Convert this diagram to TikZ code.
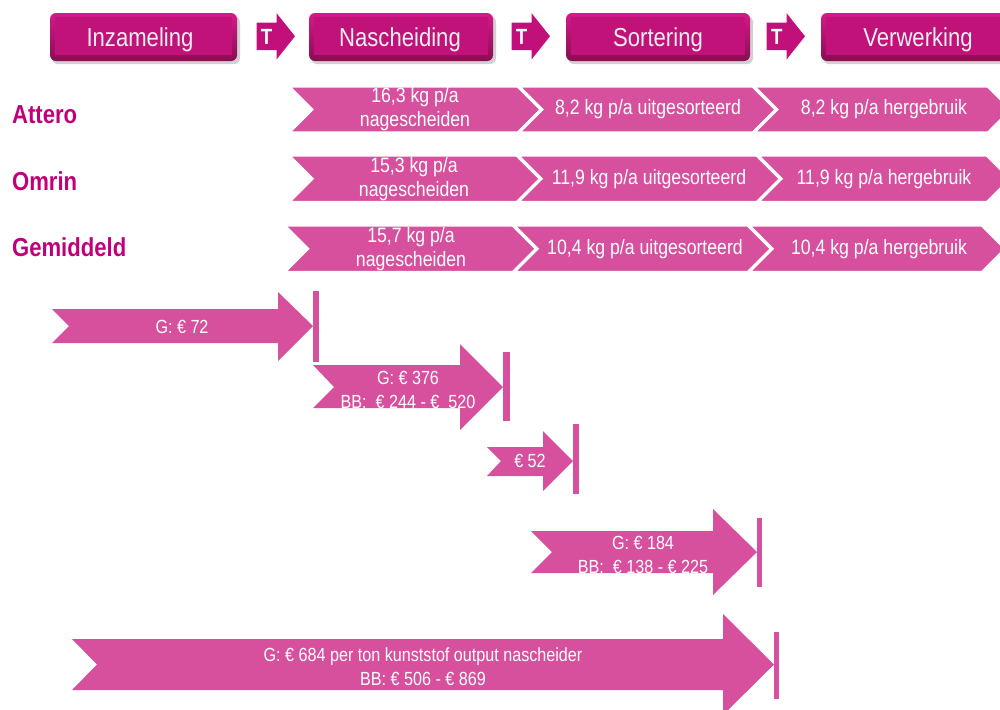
\documentclass[tikz,border=0pt]{standalone}
\usepackage{fontspec}
\setmainfont{Liberation Sans}[FakeStretch=0.85]
\definecolor{chevpink}{RGB}{214,80,158}
\definecolor{tmag}{RGB}{194,16,122}
\definecolor{hdrtop}{RGB}{212,26,140}
\definecolor{hdrbot}{RGB}{135,14,82}
\definecolor{hdrface}{RGB}{192,18,121}
\definecolor{hdrtext}{RGB}{240,238,240}
\definecolor{lblmag}{RGB}{192,0,122}
\begin{document}
\begin{tikzpicture}[x=0.5pt,y=-0.5pt,
	chev/.style={fill=chevpink,draw=white,line width=1.6pt,line join=miter},
	arr/.style={fill=chevpink},
	hdrtxt/.style={text=hdrtext,font=\fontsize{13}{15}\selectfont,anchor=base,inner sep=0pt},
	chevtxt/.style={text=white,font=\fontsize{10.4}{12}\selectfont,align=center,inner sep=0pt},
	arrtxt/.style={text=white,font=\fontsize{9.5}{12}\selectfont,align=center,inner sep=0pt},
	rowlbl/.style={text=lblmag,font=\fontsize{13}{15}\selectfont\bfseries,anchor=base west,inner sep=0pt},
	ttxt/.style={text=white,font=\fontsize{11}{13}\selectfont\bfseries,inner sep=0pt}]
	\useasboundingbox (0,0) rectangle (1000,709);
	\clip (0,0) rectangle (1000,709);
	% header boxes
	\fill[black!18,rounded corners=3] (52,16) rectangle (240,64);
	\shade[top color=hdrtop,bottom color=hdrbot,rounded corners=3] (50,13) rectangle (237,61);
	\fill[hdrface] (55,17) rectangle (232,55);
	\node[hdrtxt] (hInz) at (140,46) {Inzameling};
	\fill[black!18,rounded corners=3] (311,16) rectangle (496,64);
	\shade[top color=hdrtop,bottom color=hdrbot,rounded corners=3] (309,13) rectangle (493,61);
	\fill[hdrface] (314,17) rectangle (488,55);
	\node[hdrtxt] (hNas) at (400,46) {Nascheiding};
	\fill[black!18,rounded corners=3] (568,16) rectangle (753,64);
	\shade[top color=hdrtop,bottom color=hdrbot,rounded corners=3] (566,13) rectangle (750,61);
	\fill[hdrface] (571,17) rectangle (745,55);
	\node[hdrtxt] (hSort) at (658,46) {Sortering};
	\fill[black!18,rounded corners=3] (823,16) rectangle (1010,64);
	\shade[top color=hdrtop,bottom color=hdrbot,rounded corners=3] (821,13) rectangle (1008,61);
	\fill[hdrface] (826,17) rectangle (1003,55);
	\node[hdrtxt] (hVerw) at (918,46) {Verwerking};
	% T arrows
	\fill[tmag] (256.7,22.7) -- (276.7,22.7) -- (276.7,13.3) -- (295,36.3) -- (276.7,59.3) -- (276.7,50) -- (256.7,50) -- cycle;
	\node[ttxt] (tA) at (266.7,36.5) {T};
	\fill[tmag] (511.7,22.7) -- (531.7,22.7) -- (531.7,13.3) -- (550,36.3) -- (531.7,59.3) -- (531.7,50) -- (511.7,50) -- cycle;
	\node[ttxt] (tB) at (521.7,36.5) {T};
	\fill[tmag] (766.7,22.7) -- (786.7,22.7) -- (786.7,13.3) -- (805,36.3) -- (786.7,59.3) -- (786.7,50) -- (766.7,50) -- cycle;
	\node[ttxt] (tC) at (776.7,36.5) {T};
	% row labels
	\node[rowlbl] (lAttero) at (11.7,123.3) {Attero};
	\node[rowlbl] (lOmrin) at (11.7,190.7) {Omrin};
	\node[rowlbl] (lGem) at (11.7,256.7) {Gemiddeld};
	% row Attero
	\draw[chev] (288,86) -- (518,86) -- (541.5,109.5) -- (518,133) -- (288,133) -- (311.5,109.5) -- cycle;
	\draw[chev] (518,86) -- (753,86) -- (776.5,109.5) -- (753,133) -- (518,133) -- (541.5,109.5) -- cycle;
	\draw[chev] (753,86) -- (988,86) -- (1011.5,109.5) -- (988,133) -- (753,133) -- (776.5,109.5) -- cycle;
	\node[chevtxt] (aNas) at (415,109.5) {16,3 kg p/a\\nagescheiden};
	\node[chevtxt] (aSort) at (648,109.5) {8,2 kg p/a uitgesorteerd};
	\node[chevtxt] (aVerw) at (884,109.5) {8,2 kg p/a hergebruik};
	% row Omrin
	\draw[chev] (288,155) -- (517,155) -- (540.75,178.75) -- (517,202.5) -- (288,202.5) -- (311.75,178.75) -- cycle;
	\draw[chev] (517,155) -- (757,155) -- (780.75,178.75) -- (757,202.5) -- (517,202.5) -- (540.75,178.75) -- cycle;
	\draw[chev] (757,155) -- (987,155) -- (1010.75,178.75) -- (987,202.5) -- (757,202.5) -- (780.75,178.75) -- cycle;
	\node[chevtxt] (oNas) at (414,178.75) {15,3 kg p/a\\nagescheiden};
	\node[chevtxt] (oSort) at (649,178.75) {11,9 kg p/a uitgesorteerd};
	\node[chevtxt] (oVerw) at (884,178.75) {11,9 kg p/a hergebruik};
	% row Gemiddeld
	\draw[chev] (283.5,225) -- (513,225) -- (536.75,248.75) -- (513,272.5) -- (283.5,272.5) -- (307.25,248.75) -- cycle;
	\draw[chev] (513,225) -- (748,225) -- (771.75,248.75) -- (748,272.5) -- (513,272.5) -- (536.75,248.75) -- cycle;
	\draw[chev] (748,225) -- (982,225) -- (1005.75,248.75) -- (982,272.5) -- (748,272.5) -- (771.75,248.75) -- cycle;
	\node[chevtxt] (gNas) at (411,248.75) {15,7 kg p/a\\nagescheiden};
	\node[chevtxt] (gSort) at (645,248.75) {10,4 kg p/a uitgesorteerd};
	\node[chevtxt] (gVerw) at (879,248.75) {10,4 kg p/a hergebruik};
	% cost arrow inzameling
	\fill[arr] (52,309) -- (278,309) -- (278,292) -- (313,326) -- (278,361) -- (278,343) -- (52,343) -- (69,326) -- cycle;
	\fill[arr] (313,291) rectangle (319,362);
	\node[arrtxt] (cInz) at (182,327) {G: € 72};
	% cost arrow nascheiding
	\fill[arr] (313,365) -- (460,365) -- (460,344) -- (503,387) -- (460,430) -- (460,408) -- (313,408) -- (334,387) -- cycle;
	\fill[arr] (503,352) rectangle (510,421);
	\node[arrtxt] (cNas) at (408,389.5) {G: € 376\\BB:\ \ € 244 - €\ \ 520};
	% cost arrow transport
	\fill[arr] (487,447) -- (543,447) -- (543,431) -- (573,461) -- (543,491) -- (543,476) -- (487,476) -- (501,461) -- cycle;
	\fill[arr] (573,424) rectangle (579,494);
	\node[arrtxt] (cTrans) at (530,461) {€ 52};
	% cost arrow sortering
	\fill[arr] (531,531) -- (713,531) -- (713,509) -- (757,552) -- (713,595) -- (713,573) -- (531,573) -- (552,552) -- cycle;
	\fill[arr] (757,518) rectangle (762,587);
	\node[arrtxt] (cSort) at (643,555) {G: € 184\\BB:\ \ € 138 - € 225};
	% cost arrow total
	\fill[arr] (72,639) -- (723,639) -- (723,614) -- (774,664.5) -- (723,715) -- (723,690) -- (72,690) -- (97,664.5) -- cycle;
	\fill[arr] (774,632) rectangle (779,699);
	\node[arrtxt] (cTot) at (423,667) {G: € 684 per ton kunststof output nascheider\\BB: € 506 - € 869};
\end{tikzpicture}
\end{document}
